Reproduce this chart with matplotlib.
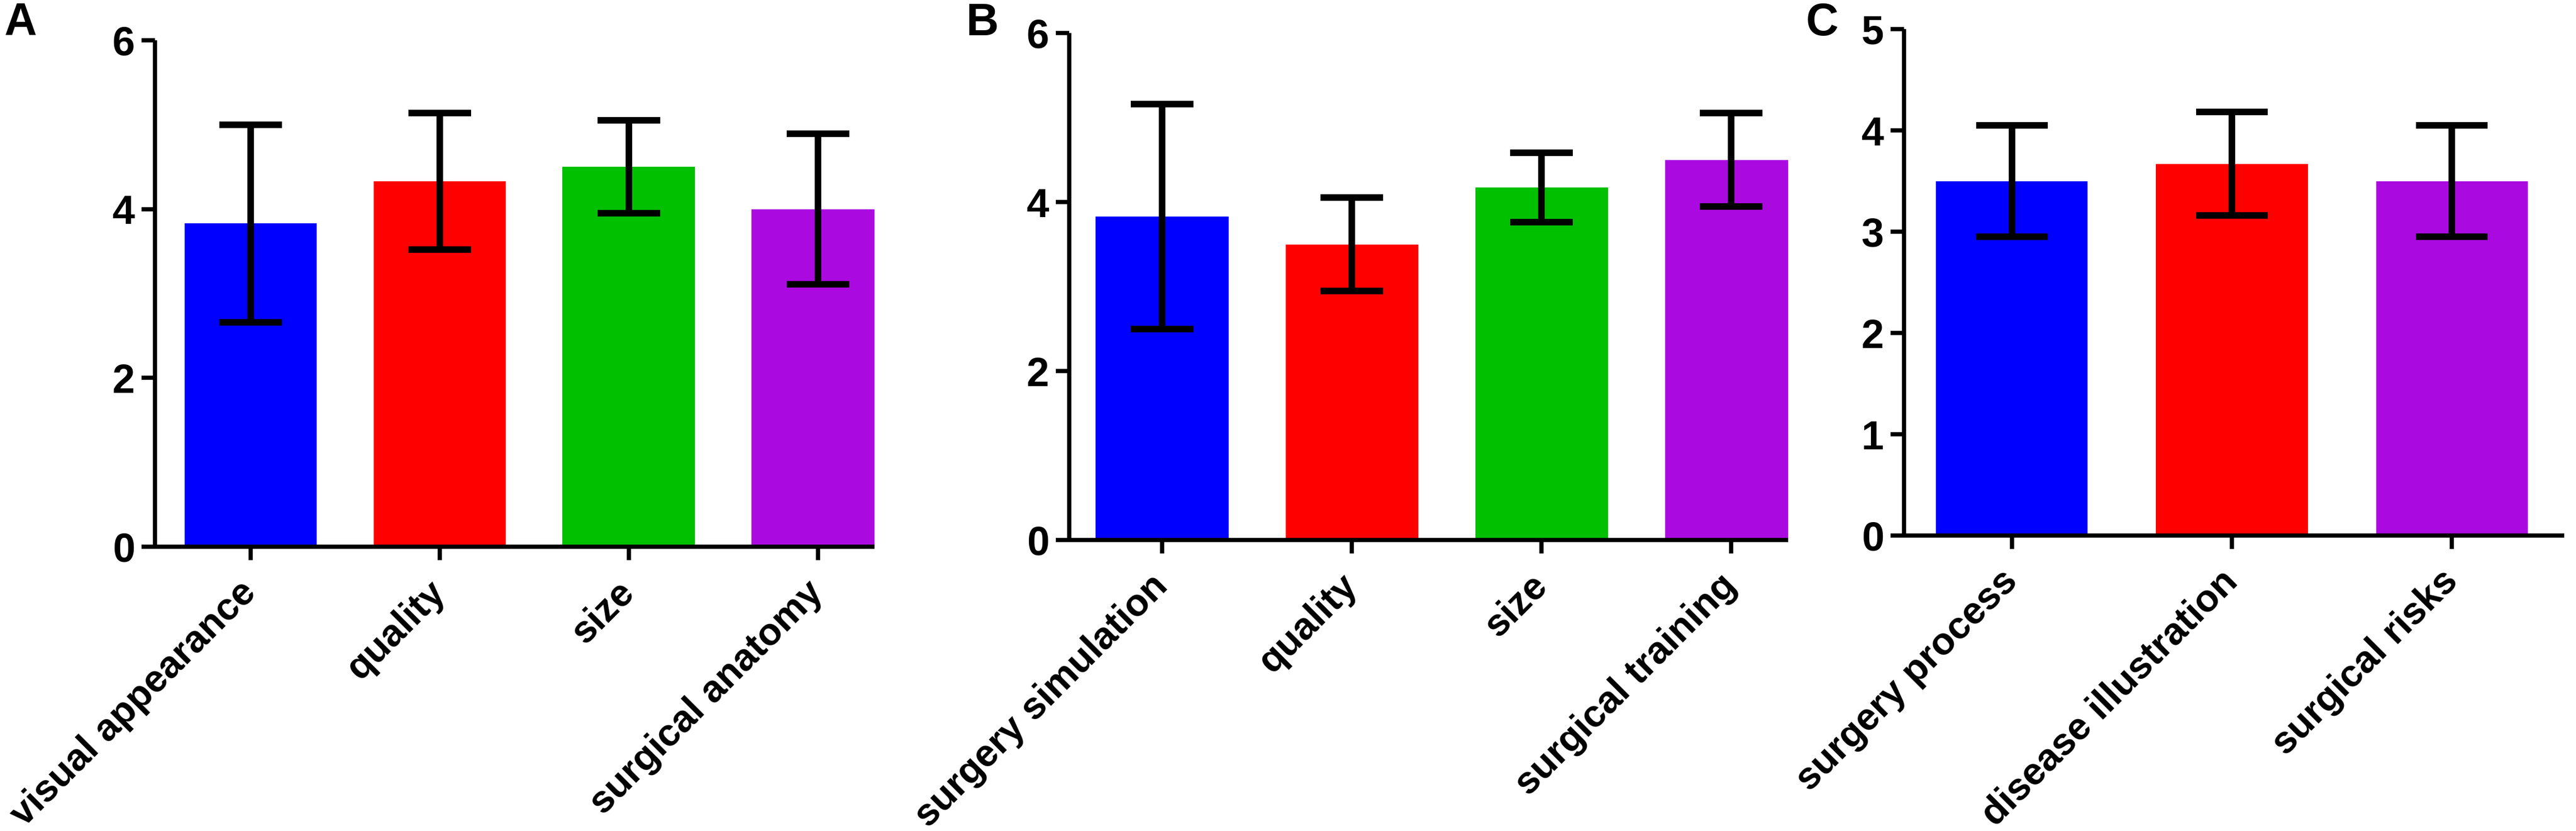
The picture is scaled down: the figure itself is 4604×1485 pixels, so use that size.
import matplotlib

matplotlib.use("Agg")
import matplotlib.pyplot as plt

plt.rcParams["font.family"] = ["Liberation Sans", "DejaVu Sans"]
plt.rcParams["font.weight"] = "bold"

BLUE = "#0000FF"
RED = "#FF0000"
GREEN = "#00C000"
PURPLE = "#AA0AE0"

# panel A
labels_a = ["visual appearance", "quality", "size", "surgical anatomy"]
means_a = [3.83, 4.33, 4.50, 4.00]
sd_a = [1.17, 0.81, 0.55, 0.89]
colors_a = [BLUE, RED, GREEN, PURPLE]

# panel B
labels_b = ["surgery simulation", "quality", "size", "surgical training"]
means_b = [3.83, 3.50, 4.17, 4.50]
sd_b = [1.33, 0.55, 0.41, 0.55]
colors_b = [BLUE, RED, GREEN, PURPLE]

# panel C
labels_c = ["surgery process", "disease illustration", "surgical risks"]
means_c = [3.50, 3.67, 3.50]
sd_c = [0.55, 0.51, 0.55]
colors_c = [BLUE, RED, PURPLE]

W, H = 4604, 1485
LW = 5.4       # axis lines
ELW = 8.4      # error bars
YFS = 52
XFS = 49


def _axes_rect(left, right, bottom, top):
    return [left / W, 1 - bottom / H, (right - left) / W, (bottom - top) / H]


def _panel(fig, rect, labels, means, sds, colors, ymax, yticks, xlim, width, capsize, letter, letter_xy):
    ax = fig.add_axes(rect)
    x = list(range(len(labels)))
    ax.bar(x, means, width=width, color=colors, zorder=2)
    ax.errorbar(x, means, yerr=sds, fmt="none", ecolor="black", elinewidth=ELW,
                capsize=capsize, capthick=ELW, zorder=3)
    ax.set_xlim(*xlim)
    ax.set_ylim(0, ymax)
    ax.set_yticks(yticks)
    ax.set_xticks(x)
    ax.set_xticklabels(labels, rotation=45, ha="right", va="center",
                       rotation_mode="anchor", fontsize=XFS, fontweight="bold")
    for t in ax.get_yticklabels():
        t.set_fontsize(YFS)
        t.set_fontweight("bold")
    ax.spines["top"].set_visible(False)
    ax.spines["right"].set_visible(False)
    for s in ("left", "bottom"):
        ax.spines[s].set_linewidth(LW)
        ax.spines[s].set_capstyle("butt")
    ax.tick_params(axis="y", direction="out", length=17, width=LW, pad=9)
    ax.tick_params(axis="x", direction="out", length=17, width=LW, pad=35)
    fig.text(letter_xy[0] / W, 1 - letter_xy[1] / H, letter, fontsize=58,
             fontweight="bold", ha="left", va="baseline")
    return ax


fig = plt.figure(figsize=(W / 100, H / 100), dpi=100)

_panel(fig, _axes_rect(277, 1563, 977, 72), labels_a, means_a, sd_a, colors_a,
       6, [0, 2, 4, 6], (-0.506, 3.30), 0.70, 40, "A", (8, 62))
_panel(fig, _axes_rect(1911, 3196, 965, 59), labels_b, means_b, sd_b, colors_b,
       6, [0, 2, 4, 6], (-0.49, 3.30), 0.70, 40, "B", (1727, 63))
_panel(fig, _axes_rect(3403, 4583, 957, 52), labels_c, means_c, sd_c, colors_c,
       5, [0, 1, 2, 3, 4, 5], (-0.49, 2.51), 0.69, 46, "C", (3228, 63))

fig.savefig("out.png", dpi=100)
